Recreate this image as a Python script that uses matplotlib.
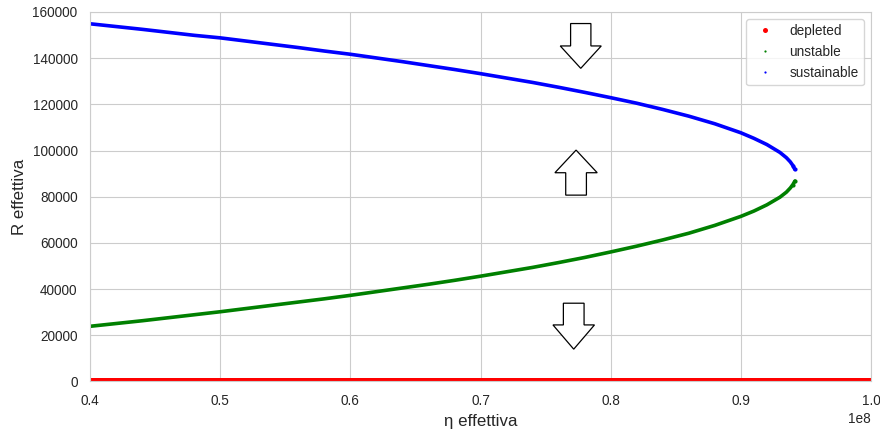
import matplotlib
matplotlib.use("Agg")
import matplotlib.pyplot as plt
from matplotlib.lines import Line2D
import seaborn as sns

sns.set_style("whitegrid")
plt.rcParams['font.family'] = ['Liberation Sans', 'DejaVu Sans']

# valori di eta (in unita' di 1e8) per i due rami
eta_rami = [0.40, 0.42, 0.44, 0.46, 0.48, 0.50, 0.52, 0.54, 0.56, 0.58,
            0.60, 0.62, 0.64, 0.66, 0.68, 0.70, 0.72, 0.74, 0.76, 0.78,
            0.80, 0.82, 0.84, 0.86, 0.88, 0.90, 0.91, 0.92, 0.93, 0.935,
            0.938, 0.940, 0.9415]

# ramo stabile (sustainable)
R_sustainable = [154900, 153700, 152500, 151200, 149900, 148800, 147400, 146000, 144600, 143100,
                 141700, 140100, 138500, 136800, 135100, 133300, 131400, 129500, 127400, 125200,
                 122900, 120500, 117800, 114900, 111600, 107700, 105300, 102600, 99200, 96900,
                 95100, 93500, 91800]

# ramo instabile (unstable)
R_unstable = [23900, 25100, 26300, 27600, 28900, 30200, 31600, 33000, 34400, 35800,
              37300, 38900, 40500, 42100, 43800, 45600, 47500, 49400, 51500, 53700,
              56100, 58600, 61300, 64200, 67600, 71500, 73800, 76500, 79800, 82000,
              83800, 85300, 86800]

# stato estinto (depleted)
eta_depleted = [0.40, 0.50, 0.60, 0.70, 0.80, 0.90, 1.00]
R_depleted = [700, 700, 700, 700, 700, 700, 700]

scala = 1e8
x_rami = [e * scala for e in eta_rami]
x_depl = [e * scala for e in eta_depleted]

fig = plt.figure(figsize=(8.8, 4.3), dpi=100)
ax = fig.add_axes([0.1023, 0.1128, 0.8875, 0.8593])

# curve
ax.plot(x_depl, R_depleted, color='red', lw=3.6, solid_capstyle='butt', zorder=2)
ax.plot(x_rami, R_unstable, color='green', lw=2.6, zorder=2)
ax.plot(x_rami, R_sustainable, color='blue', lw=2.6, zorder=2)
# ultimi punti vicino alla biforcazione
ax.scatter(x_rami[-2:], R_unstable[-2:], s=9, color='green', linewidths=0, zorder=3)
ax.scatter(x_rami[-2:], R_sustainable[-2:], s=9, color='blue', linewidths=0, zorder=3)

# frecce (direzione della dinamica)
frecce = [
    (0.777e8, 155000, -9700, 9700, 1.56e6, 3.15e6),
    (0.7734e8, 80700, 9700, 9800, 1.59e6, 3.25e6),
    (0.7716e8, 33900, -9400, 10500, 1.59e6, 3.19e6),
]
for x0, y0, dy, hl, w, hw in frecce:
    ax.arrow(x0, y0, 0, dy, width=w, head_width=hw, head_length=hl,
             fc='white', ec='black', lw=0.9, zorder=4)

ax.set_xlim(0.4e8, 1.0e8)
ax.set_ylim(0, 160000)
ax.set_xlabel('η effettiva', fontsize=12.2)
ax.set_ylabel('R effettiva', fontsize=12.2)
ax.tick_params(axis='both', labelsize=9.8, length=0, pad=9)
ax.xaxis.get_offset_text().set_fontsize(9.8)

voci = [
    Line2D([], [], ls='none', marker='o', ms=3.6, mew=0, color='red', label='depleted'),
    Line2D([], [], ls='none', marker='o', ms=1.6, mew=0, color='green', label='unstable'),
    Line2D([], [], ls='none', marker='o', ms=1.6, mew=0, color='blue', label='sustainable'),
]
ax.legend(handles=voci, loc='upper right', fontsize=9.8, frameon=True)

fig.savefig('out.png', dpi=100)
